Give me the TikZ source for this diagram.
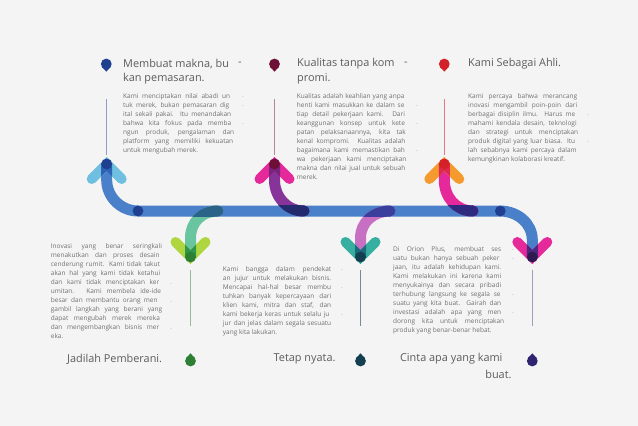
\documentclass[tikz,border=0pt]{standalone}
\usepackage{fontspec}
\setmainfont{Open Sans}
\definecolor{paper}{HTML}{F4F4F4}
\definecolor{barblue}{HTML}{4A7FC9}
\definecolor{headgray}{HTML}{5C5C5C}
\definecolor{bodygray}{HTML}{707070}
% arrow one to six: wing, overlap, tip, shaft
\definecolor{wingA}{HTML}{6EBFE0}\definecolor{overA}{HTML}{2E62B4}\definecolor{tipA}{HTML}{1F3F8F}
\definecolor{wingB}{HTML}{E5289A}\definecolor{overB}{HTML}{78237D}\definecolor{tipB}{HTML}{6E0F35}
\definecolor{wingC}{HTML}{F59A2E}\definecolor{overC}{HTML}{DE2850}\definecolor{tipC}{HTML}{D3212A}
\definecolor{wingD}{HTML}{AFD63F}\definecolor{overD}{HTML}{2F9650}\definecolor{tipD}{HTML}{2C7F33}
\definecolor{wingE}{HTML}{37AFA0}\definecolor{overE}{HTML}{1F697D}\definecolor{tipE}{HTML}{143F50}
\definecolor{wingF}{HTML}{E5289A}\definecolor{overF}{HTML}{4A2A80}\definecolor{tipF}{HTML}{2E1A50}
\definecolor{shaftB}{HTML}{883399}\definecolor{shaftC}{HTML}{E5299A}
\definecolor{shaftD}{HTML}{69C5A0}\definecolor{shaftE}{HTML}{C76FC2}
\definecolor{barB}{HTML}{232A6E}\definecolor{barC}{HTML}{2E2A80}
\definecolor{barD}{HTML}{2A6288}\definecolor{barE}{HTML}{3A3F9E}
\definecolor{pinF}{HTML}{2E2470}
\tikzset{
  headtext/.style={inner sep=0pt, text=headgray, font=\fontsize{10.9}{14.5}\selectfont, align=left},
  bodytext/.style={inner sep=0pt, anchor=north west, text=bodygray, font=\fontsize{6.5}{9}\selectfont, align=left},
  softdash/.style={inner sep=0pt, text=black!25, font=\fontsize{6.5}{9}\selectfont},
  shaft/.style={line width=11pt, line cap=round},
  wing/.style={line width=10pt, line cap=round},
  stem/.style={line width=0.8pt}
}
% one justified line of a text block
\newcommand{\jl}[2]{\makebox[#1pt][s]{#2}}
% x, y of the tip, direction of the wings, wing / overlap / tip colours
\newcommand{\arrowhead}[6]{
  \draw[wing, #4] (#1-15,#2+#3*15) -- (#1,#2) -- (#1+15,#2+#3*15);
  \fill[#5] (#1-5.5,#2+#3*12.5) -- (#1,#2+#3*7) -- (#1+5.5,#2+#3*12.5) -- (#1+5.5,#2-#3*1) -- (#1,#2) -- (#1-5.5,#2-#3*1) -- cycle;
  \fill[#6] (#1,#2) circle (5.4pt);
}
% x, y of the round part, direction of the point, colour
\newcommand{\pinmark}[4]{
  \fill[#4] (#1,#2) circle (5.4pt);
  \fill[#4] (#1-4.7,#2+#3*2.6) -- (#1,#2+#3*7.6) -- (#1+4.7,#2+#3*2.6) -- cycle;
}
\begin{document}
\begin{tikzpicture}[x=1pt,y=-1pt]
  \useasboundingbox (0,0) rectangle (638,426);
  \fill[paper] (0,0) rectangle (638,426);

  % stems
  \coordinate (s1a) at (106.5,99);  \coordinate (s1b) at (106.5,155);
  \coordinate (s2a) at (274.5,99);  \coordinate (s2b) at (274.5,155);
  \coordinate (s3a) at (444.3,99);  \coordinate (s3b) at (444.3,155);
  \coordinate (s4a) at (190.5,270); \coordinate (s4b) at (190.5,326);
  \coordinate (s5a) at (360.5,270); \coordinate (s5b) at (360.5,326);
  \coordinate (s6a) at (532.3,270); \coordinate (s6b) at (532.3,326);
  \draw[stem, tipA!48!paper] (s1a) -- (s1b);
  \draw[stem, tipB!48!paper] (s2a) -- (s2b);
  \draw[stem, tipC!58!paper] (s3a) -- (s3b);
  \draw[stem, tipD!48!paper] (s4a) -- (s4b);
  \draw[stem, tipE!58!paper] (s5a) -- (s5b);
  \draw[stem, pinF!42!paper] (s6a) -- (s6b);

  % main bar with its two bends
  \draw[shaft, barblue] (106.7,164) -- (106.7,180) .. controls (106.7,197) and (121,211) .. (138,211)
    -- (500,211) .. controls (517,211) and (532.3,223) .. (532.3,240) -- (532.3,257);

  % branches
  \draw[shaft, shaftD] (218,211) .. controls (202,211) and (190.5,222) .. (190.5,238) -- (190.5,257);
  \draw[shaft, shaftB] (304,211) .. controls (287,211) and (274.5,197) .. (274.5,180) -- (274.5,164);
  \draw[shaft, shaftE] (390,211) .. controls (374,211) and (360.5,222) .. (360.5,238) -- (360.5,257);
  \draw[shaft, shaftC] (473,211) .. controls (456,211) and (444.3,197) .. (444.3,180) -- (444.3,164);
  \begin{scope}
    \clip (100,205.5) rectangle (520,216.5);
    \draw[shaft, barD] (218,211) .. controls (202,211) and (190.5,222) .. (190.5,238);
    \draw[shaft, barB] (304,211) .. controls (287,211) and (274.5,197) .. (274.5,180);
    \draw[shaft, barE] (390,211) .. controls (374,211) and (360.5,222) .. (360.5,238);
    \draw[shaft, barC] (473,211) .. controls (456,211) and (444.3,197) .. (444.3,180);
  \end{scope}

  % joints on the bar
  \fill[tipA] (138,211) circle (5.4pt);
  \fill[tipA] (500.3,211) circle (5.4pt);

  % arrow heads
  \arrowhead{106.7}{164}{1}{wingA}{overA}{tipA}
  \arrowhead{274.5}{164}{1}{wingB}{overB}{tipB}
  \arrowhead{444.3}{164}{1}{wingC}{overC}{tipC}
  \arrowhead{190.5}{257}{-1}{wingD}{overD}{tipD}
  \arrowhead{360.5}{257}{-1}{wingE}{overE}{tipE}
  \arrowhead{532.3}{257}{-1}{wingF}{overF}{tipF}

  % pins
  \pinmark{106.3}{64}{1}{tipA}
  \pinmark{274.5}{64}{1}{tipB}
  \pinmark{444.3}{64}{1}{tipC}
  \pinmark{190.5}{361}{-1}{tipD}
  \pinmark{360.5}{361}{-1}{tipE}
  \pinmark{532.3}{361}{-1}{pinF}

  % headings
  \node[headtext, anchor=west] (h1) at (123,64) {Membuat makna, bu};
  \node[headtext, anchor=west] (h1b) at (123,78.5) {kan pemasaran.};
  \node[headtext, anchor=center] (h1d) at (240,64) {-};
  \node[headtext, anchor=west] (h2) at (297,64) {Kualitas tanpa kom};
  \node[headtext, anchor=west] (h2b) at (297,78.5) {promi.};
  \node[headtext, anchor=center] (h2d) at (406,64) {-};
  \node[headtext, anchor=west] (h3) at (468,64) {Kami Sebagai Ahli.};
  \node[headtext, anchor=east] (h4) at (162.3,359) {Jadilah Pemberani.};
  \node[headtext, anchor=east] (h5) at (335.7,359) {Tetap nyata.};
  \node[headtext, anchor=east] (h6) at (502.7,359) {Cinta apa yang kami};
  \node[headtext, anchor=east] (h6b) at (511.7,374) {buat.};

  % text blocks
  \node[bodytext] (t1) at (123,93) {\jl{107}{Kami menciptakan nilai abadi un}\\
    \jl{106}{tuk merek, bukan pemasaran dig}\\
    \jl{108}{ital sekali pakai. Itu menandakan}\\
    \jl{108}{bahwa kita fokus pada memba}\\
    \jl{111}{ngun produk, pengalaman dan}\\
    \jl{110}{platform yang memiliki kekuatan}\\
    untuk mengubah merek.};
  \node[bodytext] (t2) at (296.7,93) {\jl{107.5}{Kualitas adalah keahlian yang anpa}\\
    \jl{107.5}{henti kami masukkan ke dalam se}\\
    \jl{108}{tiap detail pekerjaan kami. Dari}\\
    \jl{108}{keanggunan konsep untuk kete}\\
    \jl{109}{patan pelaksanaannya, kita tak}\\
    \jl{108.5}{kenal kompromi. Kualitas adalah}\\
    \jl{108}{bagaimana kami memastikan bah}\\
    \jl{109.5}{wa pekerjaan kami menciptakan}\\
    \jl{108.5}{makna dan nilai jual untuk sebuah}\\
    merek.};
  \node[bodytext] (t3) at (468,93) {\jl{109}{Kami percaya bahwa merancang}\\
    \jl{109}{inovasi mengambil poin-poin dari}\\
    \jl{107}{berbagai disiplin ilmu. Harus me}\\
    \jl{108.5}{mahami kendala desain, teknologi}\\
    \jl{110}{dan strategi untuk menciptakan}\\
    \jl{107}{produk digital yang luar biasa. Itu}\\
    \jl{108.5}{lah sebabnya kami percaya dalam}\\
    kemungkinan kolaborasi kreatif.};
  \node[bodytext] (t4) at (50.7,243.7) {\jl{111}{Inovasi yang benar seringkali}\\
    \jl{108.7}{menakutkan dan proses desain}\\
    \jl{109}{cenderung rumit. Kami tidak takut}\\
    \jl{109.3}{akan hal yang kami tidak ketahui}\\
    \jl{108.3}{dan kami tidak menciptakan ker}\\
    \jl{110}{umitan. Kami membela ide-ide}\\
    \jl{106.7}{besar dan membantu orang men}\\
    \jl{111.3}{gambil langkah yang berani yang}\\
    \jl{109}{dapat mengubah merek mereka}\\
    \jl{108.3}{dan mengembangkan bisnis mer}\\
    eka.};
  \node[bodytext] (t5) at (222.7,266.4) {\jl{108.3}{Kami bangga dalam pendekat}\\
    \jl{108.3}{an jujur untuk melakukan bisnis.}\\
    \jl{108.3}{Mencapai hal-hal besar membu}\\
    \jl{108.3}{tuhkan banyak kepercayaan dari}\\
    \jl{108.3}{klien kami, mitra dan staf, dan}\\
    \jl{106.5}{kami bekerja keras untuk selalu ju}\\
    \jl{108.3}{jur dan jelas dalam segala sesuatu}\\
    yang kita lakukan.};
  \node[bodytext] (t6) at (393,246.4) {\jl{108}{Di Orion Plus, membuat ses}\\
    \jl{106.3}{uatu bukan hanya sebuah peker}\\
    \jl{108}{jaan, itu adalah kehidupan kami.}\\
    \jl{108}{Kami melakukan ini karena kami}\\
    \jl{108}{menyukainya dan secara pribadi}\\
    \jl{107.3}{terhubung langsung ke segala se}\\
    \jl{108}{suatu yang kita buat. Gairah dan}\\
    \jl{108}{investasi adalah apa yang men}\\
    \jl{111}{dorong kita untuk menciptakan}\\
    produk yang benar-benar hebat.};

  % leftover hyphens beside the blocks
  \foreach \y in {97.3,106.7,124.7} \node[softdash] (da\y) at (243,\y) {-};
  \foreach \y in {106.7,124.7,151.7} \node[softdash] (db\y) at (417,\y) {-};
  \foreach \y in {115.7,142.7} \node[softdash] (dc\y) at (588,\y) {-};
  \foreach \y in {284.3,302.3,329.7} \node[softdash] (dd\y) at (171.3,\y) {-};
  \foreach \y in {270.7,288.7,315.7} \node[softdash] (de\y) at (342,\y) {-};
  \foreach \y in {250.7,259.7,295.7,313.7} \node[softdash] (df\y) at (513,\y) {-};
\end{tikzpicture}
\end{document}
